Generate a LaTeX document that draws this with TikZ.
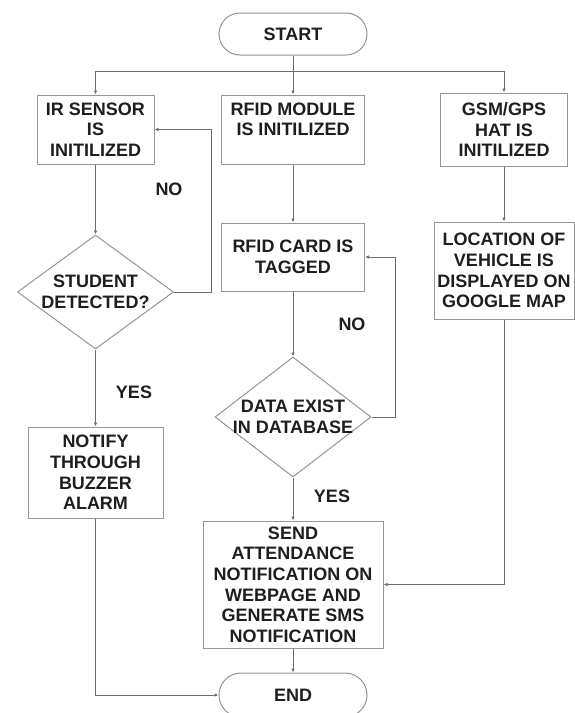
\documentclass[tikz,border=0pt]{standalone}
\usepackage{fontspec}
\setmainfont{Liberation Sans}
\usetikzlibrary{arrows.meta,shapes.geometric}
\definecolor{boxc}{RGB}{150,150,150}
\definecolor{linec}{RGB}{110,110,110}
\definecolor{txtc}{RGB}{30,30,30}
\begin{document}
\begin{tikzpicture}[x=1pt,y=-1pt,
  every node/.style={font=\fontsize{18}{20.6}\selectfont\bfseries, text=txtc},
  box/.style={draw=boxc, line width=1pt, rectangle, align=center, inner sep=0pt},
  term/.style={draw=boxc, line width=1pt, rectangle, rounded corners=21pt, minimum width=148pt, minimum height=42pt, inner sep=0pt},
  dia/.style={draw=boxc, line width=1pt, diamond, inner sep=0pt},
  lbl/.style={align=center, inner sep=0pt},
  conn/.style={draw=linec, line width=0.8pt, -{Latex[length=4pt,width=3.5pt]}},
  plainline/.style={draw=linec, line width=0.8pt}]
\useasboundingbox (0,0) rectangle (575,713);
\fill[white] (0,0) rectangle (575,713);

% nodes
\node[term] (start) at (293,34) {START};
\node[box, minimum width=117pt, minimum height=69pt] (ir) at (95.5,129.5) {IR SENSOR\\IS\\INITILIZED};
\node[box, minimum width=143pt, minimum height=69pt] (rfidm) at (293,129.5) {RFID MODULE\\IS INITILIZED\\\phantom{I}};
\node[box, minimum width=127pt, minimum height=73pt] (gsm) at (504,129.5) {GSM/GPS\\HAT IS\\INITILIZED};
\node[box, minimum width=143pt, minimum height=68pt] (card) at (293,257) {RFID CARD IS\\TAGGED};
\node[box, minimum width=140pt, minimum height=97pt] (loc) at (504,270.5) {LOCATION OF\\VEHICLE IS\\DISPLAYED ON\\GOOGLE MAP};
\node[dia, minimum width=156pt, minimum height=114pt] (det) at (95.5,292) {};
\node[lbl] (dett) at (det) {STUDENT\\DETECTED?};
\node[dia, minimum width=156pt, minimum height=120pt] (db) at (293,417) {};
\node[lbl] (dbt) at (db) {DATA EXIST\\IN DATABASE};
\node[box, minimum width=135pt, minimum height=91pt] (notify) at (95.5,472.5) {NOTIFY\\THROUGH\\BUZZER\\ALARM};
\node[box, minimum width=180pt, minimum height=127pt] (send) at (293,584.5) {SEND\\ATTENDANCE\\NOTIFICATION ON\\WEBPAGE AND\\GENERATE SMS\\NOTIFICATION};
\node[term, minimum height=44pt, rounded corners=22pt] (end) at (293,695) {END};

% labels
\node (no1) at (169,189) {NO};
\node (no2) at (352,324) {NO};
\node (yes1) at (134,392) {YES};
\node (yes2) at (332,496) {YES};

% connectors
\coordinate (split) at (293,71);
\coordinate (sl) at (95.5,71);
\coordinate (sr) at (504,71);
\coordinate (fb1) at (211,292);
\coordinate (fb2) at (395,417);
\draw[plainline] (start.south) -- (split);
\draw[plainline] (sl) -- (sr);
\draw[conn] (sl) -- (ir.north);
\draw[conn] (split) -- (rfidm.north);
\draw[conn] (sr) -- (gsm.north);
\draw[conn] (ir.south) -- (det.north);
\draw[conn] (rfidm.south) -- (card.north);
\draw[conn] (card.south) -- (db.north);
\draw[conn] (gsm.south) -- (loc.north);
\draw[conn] (det.east) -- (fb1) |- (ir.east);
\draw[conn] (db.east) -- (fb2) |- (card.east);
\draw[conn] (det.south) -- (notify.north);
\draw[conn] (db.south) -- (send.north);
\draw[conn] (loc.south) |- (send.east);
\draw[conn] (send.south) -- (end.north);
\draw[conn] (notify.south) |- (end.west);
\end{tikzpicture}
\end{document}
